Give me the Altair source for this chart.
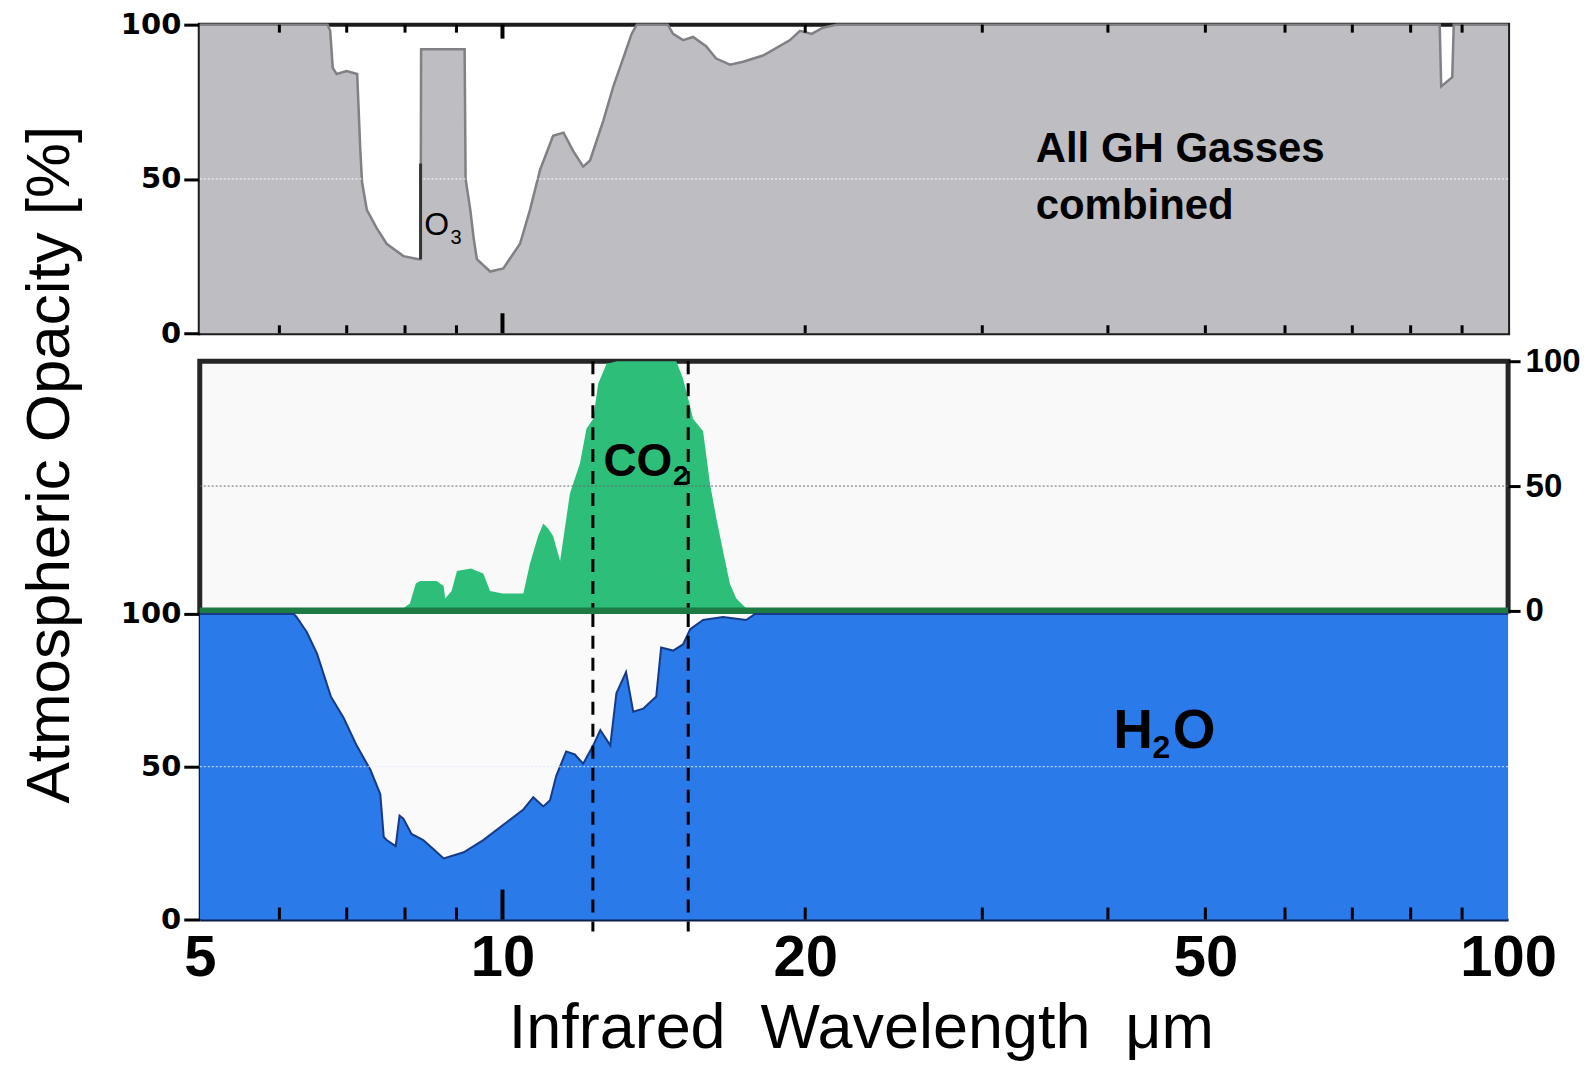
import altair as alt
import pandas as pd

# ---------------- data ----------------
gh_wl = [5, 6.7, 6.74, 6.78, 6.84, 7.0, 7.17, 7.22, 7.25, 7.33, 7.5, 7.67, 7.97, 8.25, 8.29,
         8.30, 9.17, 9.19, 9.29, 9.36, 9.43, 9.72, 10.02, 10.41, 10.65, 10.90, 11.23, 11.50,
         11.76, 12.03, 12.22, 12.60, 12.89, 13.18, 13.44, 13.6, 14.6, 14.78, 15.12, 15.47,
         15.94, 16.31, 16.84, 17.35, 18.16, 19.32, 19.76, 20.3, 20.83, 21.5, 85.5, 85.8,
         88.0, 88.3, 100]
gh_op = [100, 100, 98, 86, 84, 85, 84, 60, 49, 40, 34, 29, 25, 24, 24,
         92, 92, 50, 40, 31, 24, 20, 21, 29, 40, 53, 64, 65,
         59, 54, 56, 69, 80, 89, 97, 100, 100, 97, 95, 96,
         93, 89, 87, 88, 90, 95, 98, 97, 99, 100, 100, 80,
         83, 100, 100]

co2_wl = [5, 7.9, 8.09, 8.2, 8.28, 8.6, 8.74, 8.77, 8.9, 9.01, 9.3, 9.57, 9.72, 10.0, 10.49,
          10.65, 10.85, 10.98, 11.1, 11.23, 11.41, 11.67, 11.94, 12.12, 12.31, 12.45, 12.69,
          13.0, 14.89, 15.12, 15.3, 15.47, 15.83, 16.08, 16.32, 16.57, 16.83, 17.08, 17.48,
          18, 100]
co2_op = [0, 0, 3, 11, 12, 12, 10, 5, 8, 16, 17, 15, 8, 7, 7,
          19, 30, 35, 33, 30, 20, 47, 59, 73, 77, 91, 99,
          100, 100, 93, 85, 77, 72, 51, 37, 24, 11, 5, 1,
          0, 0]

h2o_wl = [5, 6.2, 6.24, 6.39, 6.54, 6.75, 6.95, 7.16, 7.39, 7.56, 7.62, 7.67, 7.83, 7.90,
          7.97, 8.12, 8.34, 8.54, 8.74, 9.15, 9.57, 10.02, 10.49, 10.73, 10.98, 11.15, 11.31,
          11.57, 11.8, 12.03, 12.31, 12.51, 12.80, 12.98, 13.27, 13.49, 13.80, 14.22, 14.38,
          14.78, 15.12, 15.37, 15.83, 16.57, 17.47, 17.83, 100]
h2o_op = [100, 100, 99, 94, 87, 73, 66, 57, 49, 41, 27, 26, 24, 34,
          33, 28, 26, 23, 20, 22, 26, 31, 36, 40, 37, 39, 47,
          55, 54, 51, 57, 62, 57, 74, 81, 68, 69, 73, 89,
          88, 90, 95, 98, 99, 98, 100, 100]

dashed_wl = [12.3, 15.3]
minor_ticks = [6, 7, 8, 9, 20, 30, 40, 50, 60, 70, 80, 90]
major_ticks = [10]
x_label_values = [5, 10, 20, 50, 100]
y_label_values = [0, 50, 100]

gh_label_wl = [33.9, 33.9]
gh_label_v = [55.5, 37.0]
gh_label_text = ["All GH Gasses", "combined"]

# ---------------- style ----------------
W = 1310
H_TOP, H_MID, H_BOT = 309, 250, 306
SANS = "Liberation Sans, Arial"
GRAY, GRAY_EDGE = "#bebec2", "#808085"
GREEN, GREEN_DARK = "#2dbf7a", "#1c7a42"
BLUE, BLUE_EDGE = "#2a7ae9", "#173a86"

xs = alt.Scale(type="log", domain=[5, 100], nice=False)
ys = alt.Scale(domain=[0, 100], nice=False)


def df(**cols):
    return pd.DataFrame(cols)


def X_none():
    return alt.X("wl:Q", scale=xs, axis=None)


def X_plain():
    return alt.X("wl:Q", scale=xs)


def tick_layers(h, xenc, down_minor, down_major, up_minor=None, up_major=None):
    layers = [
        alt.Chart(df(wl=minor_ticks)).mark_rule(color="black", strokeWidth=3).encode(
            x=xenc(), y=alt.value(h - down_minor), y2=alt.value(h)),
        alt.Chart(df(wl=major_ticks)).mark_rule(color="black", strokeWidth=4).encode(
            x=xenc(), y=alt.value(h - down_major), y2=alt.value(h)),
    ]
    if up_minor:
        layers += [
            alt.Chart(df(wl=minor_ticks)).mark_rule(color="black", strokeWidth=3).encode(
                x=xenc(), y=alt.value(0), y2=alt.value(up_minor)),
            alt.Chart(df(wl=major_ticks)).mark_rule(color="black", strokeWidth=4).encode(
                x=xenc(), y=alt.value(0), y2=alt.value(up_major)),
        ]
    return layers


left_axis_common = dict(
    values=y_label_values, labelFont="DejaVu Sans", labelFontWeight="bold", labelFontSize=29,
    labelColor="black", tickSize=16, tickWidth=3, tickColor="black", labelPadding=3,
    grid=False,
)

# ---------------- top panel: all GH gasses ----------------
top_area = alt.Chart(df(wl=gh_wl, v=gh_op)).mark_area(
    color=GRAY, opacity=1, fillOpacity=1, line={"color": GRAY_EDGE, "strokeWidth": 2.5}
).encode(
    x=X_none(),
    y=alt.Y("v:Q", scale=ys, axis=alt.Axis(title=None, domain=False, **left_axis_common)),
)
top_grid = alt.Chart(df(v=[50])).mark_rule(color="white", strokeDash=[2, 2], strokeWidth=1).encode(
    y=alt.Y("v:Q", scale=ys))
o3_edge = alt.Chart(df(wl=[8.29], v=[24], v2=[55])).mark_rule(color="#333333", strokeWidth=3).encode(
    x=X_none(), y=alt.Y("v:Q", scale=ys), y2="v2:Q")
o3_main = alt.Chart(df(wl=[8.36], v=[32.0], t=["O"])).mark_text(
    font=SANS, fontSize=32, align="left", baseline="alphabetic", color="black").encode(
    x=X_none(), y=alt.Y("v:Q", scale=ys), text="t:N")
o3_sub = alt.Chart(df(wl=[8.88], v=[29.0], t=["3"])).mark_text(
    font=SANS, fontSize=20, align="left", baseline="alphabetic", color="black").encode(
    x=X_none(), y=alt.Y("v:Q", scale=ys), text="t:N")
gh_text = alt.Chart(df(wl=gh_label_wl, v=gh_label_v, t=gh_label_text)).mark_text(
    font=SANS, fontSize=42, fontWeight="bold", align="left", baseline="alphabetic",
    color="black").encode(x=X_none(), y=alt.Y("v:Q", scale=ys), text="t:N")

top = alt.layer(top_area, top_grid, o3_edge, o3_main, o3_sub, gh_text,
                *tick_layers(H_TOP, X_none, 8, 20, 8, 14)).properties(
    width=W, height=H_TOP,
    view=alt.ViewBackground(fill="white", stroke="#1c1c1c", strokeWidth=4))

# ---------------- middle panel: CO2 ----------------
mid_area = alt.Chart(df(wl=co2_wl, v=co2_op)).mark_area(color=GREEN, opacity=1).encode(
    x=X_none(),
    y=alt.Y("v:Q", scale=ys, axis=alt.Axis(
        orient="right", values=y_label_values, title=None, domain=False, grid=False,
        labelFont=SANS, labelFontWeight="bold", labelFontSize=33,
        labelColor="black", tickSize=12, tickWidth=3, tickColor="black", labelPadding=5)),
)
mid_grid = alt.Chart(df(v=[50])).mark_rule(color="#666666", strokeDash=[2, 2], strokeWidth=1).encode(
    y=alt.Y("v:Q", scale=ys))
mid_zero = alt.Chart(df(v=[0])).mark_rule(color=GREEN_DARK, strokeWidth=7).encode(
    y=alt.Y("v:Q", scale=ys))
mid_dash = alt.Chart(df(wl=dashed_wl)).mark_rule(
    color="black", strokeDash=[13, 9], strokeWidth=3).encode(x=X_none())
co2_main = alt.Chart(df(wl=[12.60], v=[54.0], t=["CO"])).mark_text(
    font=SANS, fontSize=46, fontWeight="bold", align="left", baseline="alphabetic",
    color="black").encode(x=X_none(), y=alt.Y("v:Q", scale=ys), text="t:N")
co2_sub = alt.Chart(df(wl=[14.78], v=[50.4], t=["2"])).mark_text(
    font=SANS, fontSize=28, fontWeight="bold", align="left", baseline="alphabetic",
    color="black").encode(x=X_none(), y=alt.Y("v:Q", scale=ys), text="t:N")

mid = alt.layer(mid_area, mid_grid, mid_dash, mid_zero, co2_main, co2_sub).properties(
    width=W, height=H_MID,
    view=alt.ViewBackground(fill="#f9f9f9", stroke="#262626", strokeWidth=5))

# ---------------- bottom panel: H2O ----------------
bot_area = alt.Chart(df(wl=h2o_wl, v=h2o_op)).mark_area(
    color=BLUE, opacity=1, fillOpacity=1, line={"color": BLUE_EDGE, "strokeWidth": 2}
).encode(
    x=alt.X("wl:Q", scale=xs, axis=alt.Axis(
        values=x_label_values, format="d", labelFont=SANS, labelFontWeight="bold",
        labelFontSize=58, labelColor="black", labelBaseline="alphabetic", labelPadding=56,
        ticks=False, tickSize=0, domainColor="#0b1f4d", domainWidth=3, grid=False,
        labelFlush=False, labelOverlap=False,
        title="Infrared\u00a0\u00a0Wavelength\u00a0\u00a0\u03bcm", titleFont=SANS,
        titleFontSize=63, titleFontWeight="normal", titleColor="black", titleX=662, titleY=128,
        titleBaseline="alphabetic", titleAlign="center")),
    y=alt.Y("v:Q", scale=ys, axis=alt.Axis(
        title="Atmospheric Opacity [%]", titleFont=SANS, titleFontSize=62,
        titleFontWeight="normal", titleColor="black", titleX=-131, titleY=-150, titleAngle=270,
        titleBaseline="alphabetic", titleAlign="center", domainColor="black", domainWidth=3,
        **left_axis_common)),
)
bot_grid = alt.Chart(df(v=[50])).mark_rule(color="#dfe9ff", strokeDash=[2, 2], strokeWidth=1).encode(
    y=alt.Y("v:Q", scale=ys))
bot_dash = alt.Chart(df(wl=dashed_wl)).mark_rule(
    color="black", strokeDash=[13, 9], strokeWidth=3).encode(
    x=X_plain(), y=alt.value(0), y2=alt.value(H_BOT + 12))
h_txt = alt.Chart(df(wl=[40.5, 46.4], v=[56.2, 56.2], t=["H", "O"])).mark_text(
    font=SANS, fontSize=55, fontWeight="bold", align="left", baseline="alphabetic",
    color="black").encode(x=X_plain(), y=alt.Y("v:Q", scale=ys), text="t:N")
h_sub = alt.Chart(df(wl=[44.3], v=[52.9], t=["2"])).mark_text(
    font=SANS, fontSize=32, fontWeight="bold", align="left", baseline="alphabetic",
    color="black").encode(x=X_plain(), y=alt.Y("v:Q", scale=ys), text="t:N")

bot = alt.layer(bot_area, bot_grid, bot_dash, h_txt, h_sub,
                *tick_layers(H_BOT, X_plain, 12, 30)).properties(
    width=W, height=H_BOT,
    view=alt.ViewBackground(fill="#fafafa", stroke=None))

lower = alt.vconcat(mid, bot, spacing=3, bounds="flush")
chart = alt.vconcat(top, lower, spacing=28, bounds="flush").properties(
    padding={"left": 10, "top": 0, "right": 2, "bottom": 0},
    background="white",
).configure_view(strokeWidth=0)

chart.save("out.html", embed_options={"renderer": "svg", "actions": False})
